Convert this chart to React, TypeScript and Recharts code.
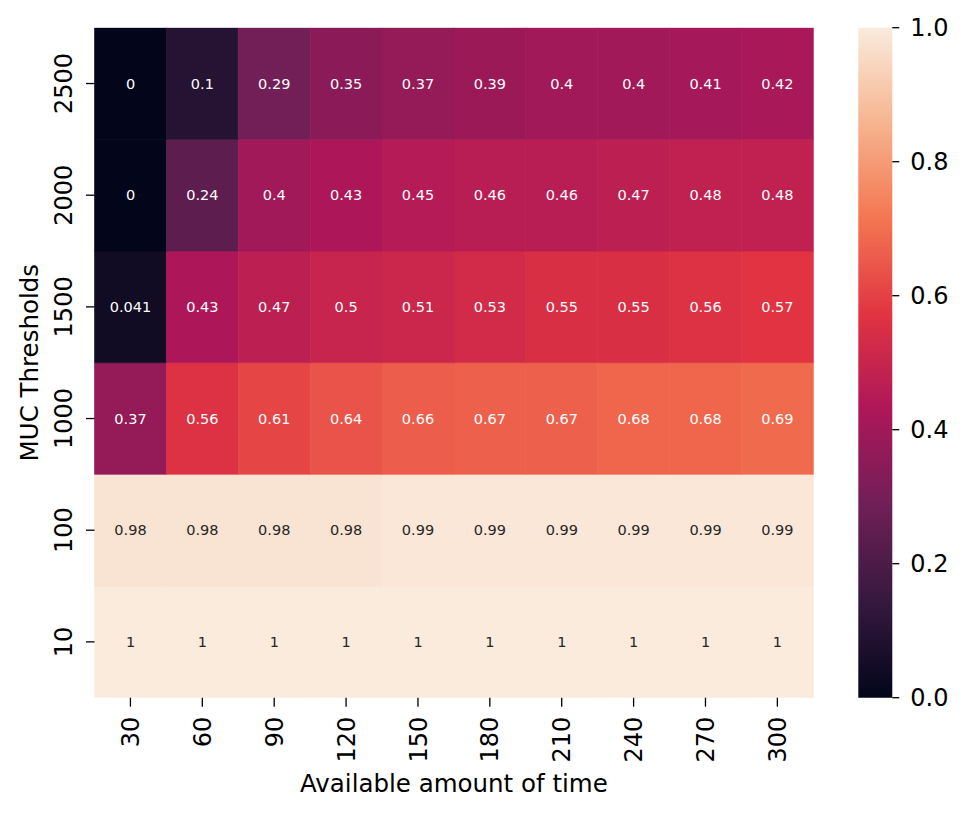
import React from 'react';
import { BarChart, Bar, XAxis, YAxis, Cell, LabelList } from 'recharts';

// columns (available amount of time)
const times = ['30', '60', '90', '120', '150', '180', '210', '240', '270', '300'];
// rows, bottom to top
const thresholds = ['10', '100', '1000', '1500', '2000', '2500'];

const muc10 = [1, 1, 1, 1, 1, 1, 1, 1, 1, 1];
const muc100 = [0.98, 0.98, 0.98, 0.98, 0.99, 0.99, 0.99, 0.99, 0.99, 0.99];
const muc1000 = [0.37, 0.56, 0.61, 0.64, 0.66, 0.67, 0.67, 0.68, 0.68, 0.69];
const muc1500 = [0.041, 0.43, 0.47, 0.5, 0.51, 0.53, 0.55, 0.55, 0.56, 0.57];
const muc2000 = [0, 0.24, 0.4, 0.43, 0.45, 0.46, 0.46, 0.47, 0.48, 0.48];
const muc2500 = [0, 0.1, 0.29, 0.35, 0.37, 0.39, 0.4, 0.4, 0.41, 0.42];

const rowsValues = [muc10, muc100, muc1000, muc1500, muc2000, muc2500];

const colorbarTicks = [0, 0.2, 0.4, 0.6, 0.8, 1];

// seaborn "rocket" colormap (approx.)
const rocket: [number, string][] = [
  [0, '#03051A'],
  [0.143, '#35193E'],
  [0.286, '#701F57'],
  [0.429, '#AD1759'],
  [0.571, '#E13342'],
  [0.714, '#F37651'],
  [0.857, '#F6B48F'],
  [1, '#FAEBDD'],
];

const hex2rgb = (h: string) => [1, 3, 5].map((i) => parseInt(h.slice(i, i + 2), 16));

function rocketColor(v: number) {
  const t = Math.max(0, Math.min(1, v));
  for (let i = 1; i < rocket.length; i++) {
    const [p1, c1] = rocket[i];
    const [p0, c0] = rocket[i - 1];
    if (t <= p1) {
      const f = (t - p0) / (p1 - p0);
      const a = hex2rgb(c0);
      const b = hex2rgb(c1);
      const c = a.map((x, k) => Math.round(x + (b[k] - x) * f));
      return `rgb(${c[0]},${c[1]},${c[2]})`;
    }
  }
  return rocket[rocket.length - 1][1];
}

const font = 'DejaVu Sans, sans-serif';

const data = times.map((t, i) => {
  const row: Record<string, any> = { time: t };
  thresholds.forEach((th, r) => {
    row['c' + th] = 1;
    row['v' + th] = rowsValues[r][i];
  });
  return row;
});

const cbData = [{ name: 'cb', v: 1 }];

const XTick = (props: any) => {
  const { x, y, payload } = props;
  return (
    <text x={x} y={y} dy="0.36em" textAnchor="end" transform={`rotate(-90, ${x}, ${y})`}
      fontSize={24} fontFamily={font} fill="#000">
      {payload.value}
    </text>
  );
};

const YTick = (props: any) => {
  const { x, y, payload } = props;
  return (
    <text x={x} y={y} textAnchor="middle" transform={`rotate(-90, ${x}, ${y})`}
      fontSize={24} fontFamily={font} fill="#000">
      {thresholds[Math.floor(payload.value)]}
    </text>
  );
};

const cellLabel = (props: any) => {
  const { x, y, width, height, value } = props;
  const dark = value > 0.9;
  return (
    <text x={x + width / 2} y={y + height / 2} dy="0.36em" textAnchor="middle"
      fontSize={14.5} fontFamily={font} fill={dark ? '#262626' : '#fff'}>
      {String(value)}
    </text>
  );
};

export default function App() {
  return (
    <div style={{ position: 'absolute', left: 0, top: 0, width: 968, height: 816, background: '#fff' }}>
      <div style={{ position: 'absolute', left: 0, top: 0 }}>
        <BarChart width={830} height={816} data={data} barCategoryGap={0} barGap={0}
          margin={{ top: 27.7, right: 16.7, bottom: 22, left: 0 }}>
          <XAxis dataKey="time" type="category" height={96.3} tick={<XTick />} tickSize={9} tickMargin={10}
            axisLine={false} tickLine={{ stroke: '#000', strokeWidth: 1.3 }} interval={0}
            label={{
              content: (p: any) => (
                <text x={p.viewBox.x + p.viewBox.width / 2} y={791.7} textAnchor="middle"
                  fontSize={24.5} fontFamily={font} fill="#000">Available amount of time</text>
              ),
            }} />
          <YAxis type="number" domain={[0, 6]} ticks={[0.5, 1.5, 2.5, 3.5, 4.5, 5.5]} width={94.5}
            tick={<YTick />} tickSize={8.5} tickMargin={14.3} axisLine={false}
            tickLine={{ stroke: '#000', strokeWidth: 1.3 }} allowDataOverflow
            label={{
              content: (p: any) => (
                <text x={38} y={p.viewBox.y + p.viewBox.height / 2} textAnchor="middle"
                  transform={`rotate(-90, 38, ${p.viewBox.y + p.viewBox.height / 2})`}
                  fontSize={24.5} fontFamily={font} fill="#000">MUC Thresholds</text>
              ),
            }} />
          {thresholds.map((th, r) => (
            <Bar key={th} dataKey={'c' + th} stackId="s" isAnimationActive={false}>
              {rowsValues[r].map((v, i) => (
                <Cell key={i} fill={rocketColor(v)} stroke={rocketColor(v)} strokeWidth={0.6} />
              ))}
              <LabelList dataKey={'v' + th} content={cellLabel} />
            </Bar>
          ))}
        </BarChart>
      </div>
      <div style={{ position: 'absolute', left: 820, top: 0 }}>
        <BarChart width={148} height={816} data={cbData} barCategoryGap={0}
          margin={{ top: 27.7, right: 0, bottom: 118.3, left: 38.3 }}>
          <defs>
            <linearGradient id="rocketGrad" x1="0" y1="1" x2="0" y2="0">
              {rocket.map(([p, c]) => (
                <stop key={p} offset={`${p * 100}%`} stopColor={c} />
              ))}
            </linearGradient>
          </defs>
          <XAxis dataKey="name" hide />
          <YAxis orientation="right" type="number" domain={[0, 1]} ticks={colorbarTicks} width={75.7}
            tickFormatter={(v: number) => v.toFixed(1)} tickSize={7} tickMargin={11}
            axisLine={false} tickLine={{ stroke: '#000', strokeWidth: 1.3 }}
            tick={{ fontSize: 24, fontFamily: font, fill: '#000' }} />
          <Bar dataKey="v" fill="url(#rocketGrad)" isAnimationActive={false} />
        </BarChart>
      </div>
    </div>
  );
}
